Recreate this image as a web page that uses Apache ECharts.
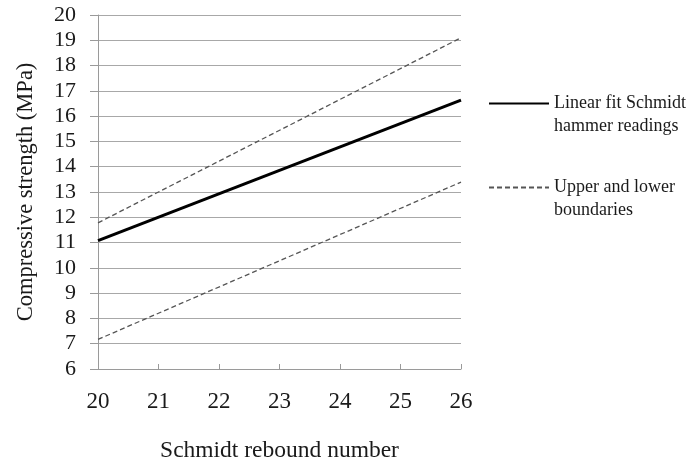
<!DOCTYPE html>
<html>
<head>
<meta charset="utf-8">
<script src="https://cdn.jsdelivr.net/npm/echarts@6/dist/echarts.min.js"></script>
<style>html,body{margin:0;padding:0;background:#fff;}#c{width:691px;height:461px;}</style>
</head>
<body>
<div id="c"></div>
<script>
var reboundX = [20, 26];
var fitStrength = [11.08, 16.63];
var upperStrength = [11.78, 19.1];
var lowerStrength = [7.17, 13.39];
var xTicks = [20, 21, 22, 23, 24, 25, 26];
var yTicks = [6, 7, 8, 9, 10, 11, 12, 13, 14, 15, 16, 17, 18, 19, 20];
var fitName = 'Linear fit Schmidt hammer readings';
var boundName = 'Upper and lower boundaries';

function pairs(xs, ys) { return xs.map(function (x, i) { return [x, ys[i]]; }); }

var serif = '"Liberation Serif", "DejaVu Serif", serif';
var chart = echarts.init(document.getElementById('c'));
chart.setOption({
  animation: false,
  backgroundColor: '#fff',
  grid: { left: 98, right: 230, top: 15, bottom: 92, containLabel: false, outerBoundsMode: 'none' },
  xAxis: {
    type: 'value', min: xTicks[0], max: xTicks[xTicks.length - 1], interval: 1,
    name: 'Schmidt rebound number', nameLocation: 'middle', nameGap: 70,
    nameTextStyle: { fontFamily: serif, fontSize: 23.5, color: '#1a1a1a' },
    axisLine: { lineStyle: { color: '#9a9a9a', width: 1 } },
    axisTick: { inside: true, length: 5, lineStyle: { color: '#9a9a9a' } },
    axisLabel: { margin: 21, fontFamily: serif, fontSize: 23, color: '#1a1a1a' },
    splitLine: { show: false }
  },
  yAxis: {
    type: 'value', min: yTicks[0], max: yTicks[yTicks.length - 1], interval: 1,
    name: 'Compressive strength (MPa)', nameLocation: 'middle', nameGap: 60, nameRotate: 90,
    nameTextStyle: { fontFamily: serif, fontSize: 22.5, color: '#1a1a1a' },
    axisLine: { show: true, lineStyle: { color: '#9a9a9a', width: 1 } },
    axisTick: { show: true, length: 8, lineStyle: { color: '#9a9a9a' } },
    axisLabel: { margin: 22, fontFamily: serif, fontSize: 22, color: '#1a1a1a' },
    splitLine: { show: true, lineStyle: { color: '#a8a8a8', width: 1 } }
  },
  legend: {
    orient: 'vertical', left: 488, top: 69, padding: 0,
    itemWidth: 60, itemHeight: 14, itemGap: 15,
    itemStyle: { opacity: 0 },
    data: [fitName, boundName],
    formatter: function (n) {
      return n === fitName ? '\nLinear fit Schmidt\nhammer readings' : '\nUpper and lower\nboundaries';
    },
    textStyle: { fontFamily: serif, fontSize: 18, lineHeight: 23, color: '#1a1a1a' }
  },
  series: [
    { name: fitName, type: 'line', symbol: 'none', data: pairs(reboundX, fitStrength),
      lineStyle: { color: '#000', width: 3, type: 'solid' }, itemStyle: { color: '#000' } },
    { name: boundName, type: 'line', symbol: 'none', data: pairs(reboundX, upperStrength),
      lineStyle: { color: '#555', width: 1.3, type: [5, 3] }, itemStyle: { color: '#555' } },
    { name: boundName, type: 'line', symbol: 'none', data: pairs(reboundX, lowerStrength),
      lineStyle: { color: '#555', width: 1.3, type: [5, 3] }, itemStyle: { color: '#555' } }
  ]
});
</script>
</body>
</html>
